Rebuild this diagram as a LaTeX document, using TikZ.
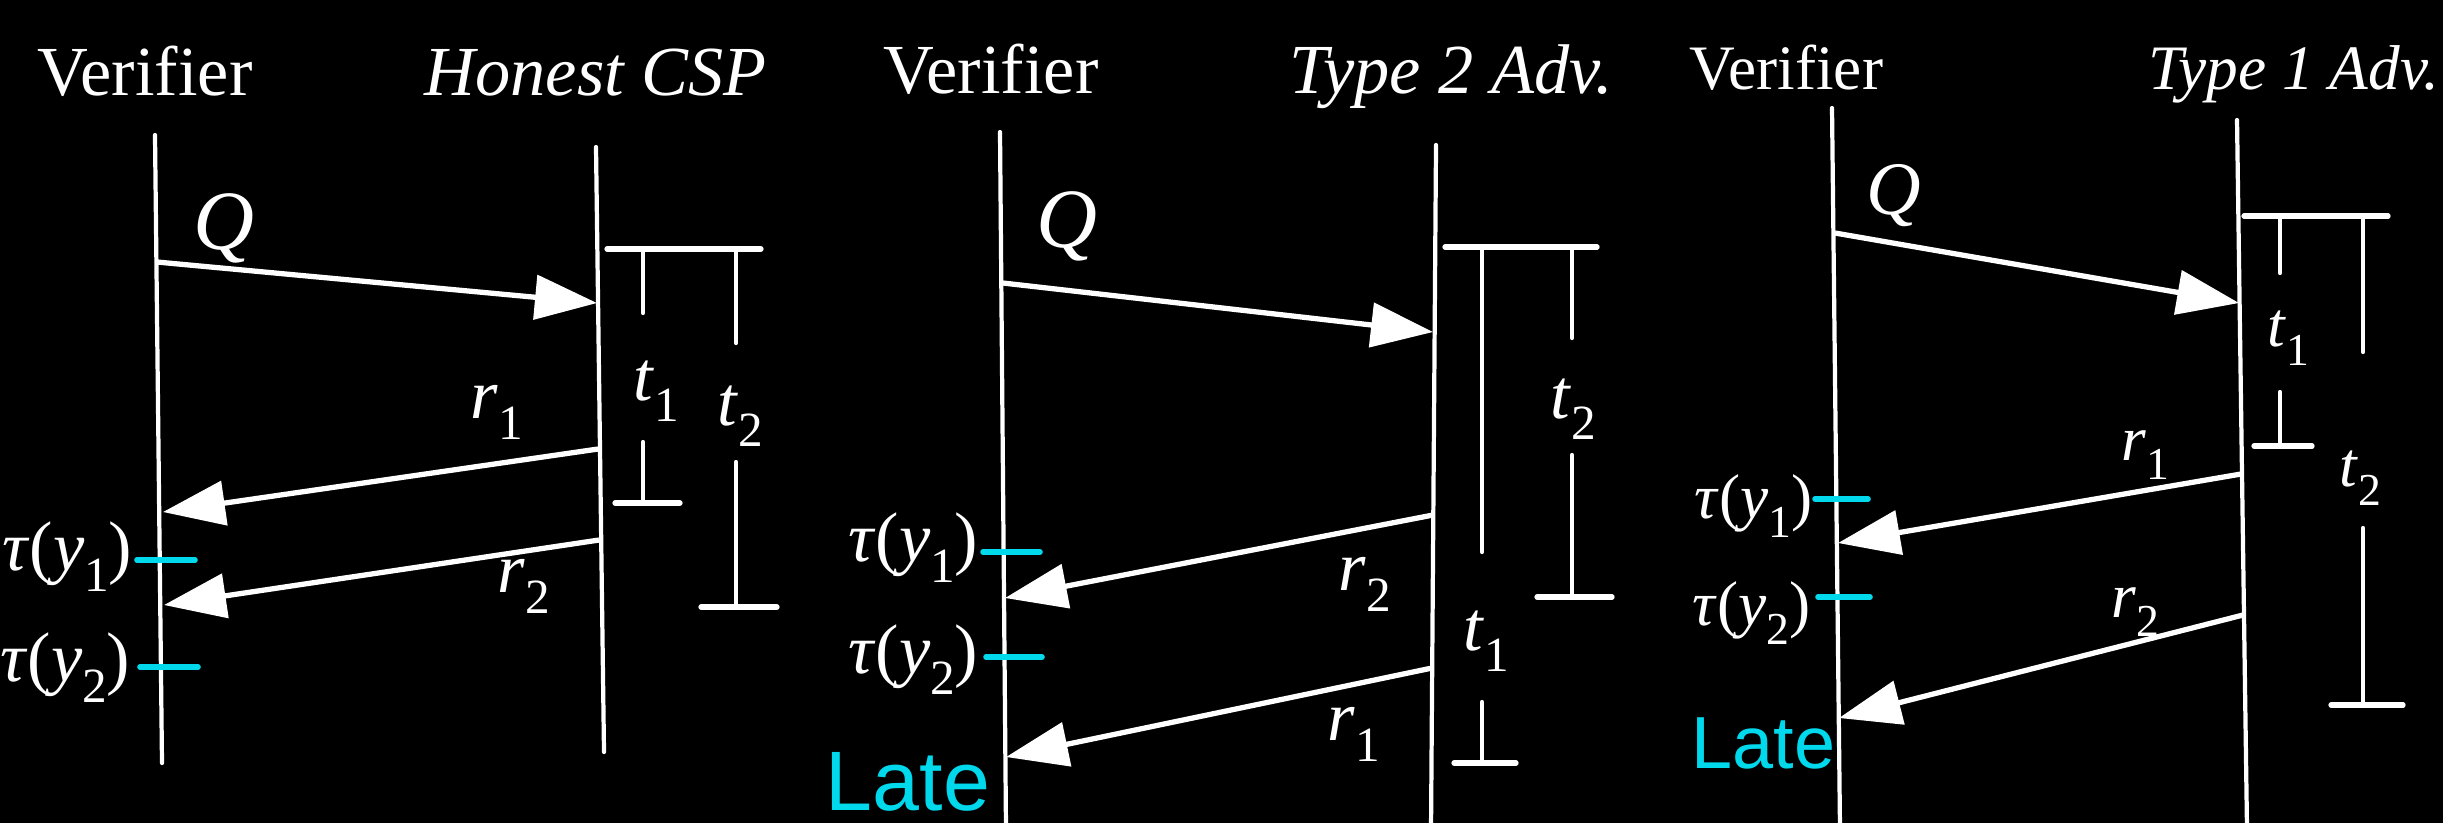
\documentclass[tikz,border=0pt]{standalone}
\usepackage{fontspec}
\setmainfont{Liberation Serif}
\newfontfamily\lsans{Liberation Sans}
\usetikzlibrary{arrows.meta}
\definecolor{tickcyan}{RGB}{0,216,236}
\newcommand{\lb}[3]{\textit{#1}\raisebox{-0.3em}{\fontsize{#3}{#3}\selectfont #2}}
\newcommand{\tauy}[2]{\textit{τ}(\textit{y}\raisebox{-0.3em}{\fontsize{#2}{#2}\selectfont #1})}
\begin{document}
\begin{tikzpicture}[x=0.01cm,y=-0.01cm,
  life/.style={white, line width=1.2pt, line cap=round},
  msg/.style={white, line width=1.5pt, -{Triangle[length=6.2mm,width=4.4mm]}},
  bar/.style={white, line width=1.5pt, line cap=round},
  vbar/.style={white, line width=1.2pt, line cap=round},
  tickm/.style={tickcyan, line width=1.6pt, line cap=round},
  txt/.style={white, inner sep=0pt, font=\fontsize{20}{24}\selectfont},
  txts/.style={white, inner sep=0pt, font=\fontsize{18}{22}\selectfont},
  qlab/.style={white, inner sep=0pt, font=\fontsize{24}{28}\selectfont},
  qlabs/.style={white, inner sep=0pt, font=\fontsize{21.5}{25}\selectfont},
  late/.style={tickcyan, inner sep=0pt, font=\lsans\fontsize{24}{28}\selectfont},
  lates/.style={tickcyan, inner sep=0pt, font=\lsans\fontsize{21}{25}\selectfont}]
\fill[black] (0,0) rectangle (2443,823);
\useasboundingbox (0,0) rectangle (2443,823);

% ---------------- Panel 1 ----------------
\node[txt, anchor=base west] (v1) at (37,95) {Verifier};
\node[txt, anchor=base west] (h1) at (424,95) {\textit{Honest CSP}};
\coordinate (L1t) at (155,135); \coordinate (L1b) at (162,763);
\coordinate (R1t) at (596,147); \coordinate (R1b) at (604,752);
\draw[life] (L1t) -- (L1b);
\draw[life] (R1t) -- (R1b);
\coordinate (q1s) at (157,262); \coordinate (q1e) at (597,303);
\draw[msg] (q1s) -- (q1e);
\coordinate (a1s) at (598,449); \coordinate (a1e) at (163,512);
\draw[msg] (a1s) -- (a1e);
\coordinate (b1s) at (599,540); \coordinate (b1e) at (164,605);
\draw[msg] (b1s) -- (b1e);
\node[qlab, anchor=base] (Q1) at (224,249) {\textit{Q}};
\node[txt, anchor=base west] (r11) at (470,418) {\lb{r}{1}{14}};
\node[txt, anchor=base west] (r12) at (497,592) {\lb{r}{2}{14}};
\node[txt, anchor=base west] (t11) at (633,400) {\lb{t}{1}{14}};
\node[txt, anchor=base west] (t12) at (717,425) {\lb{t}{2}{14}};
\node[txt, anchor=base east] (y11) at (133,570) {\tauy{1}{14}};
\node[txt, anchor=base east] (y12) at (131,681) {\tauy{2}{14}};
\draw[tickm] (137,560) -- (195,560);
\draw[tickm] (140,667) -- (198,667);
\draw[bar] (607,249) -- (761,249);
\draw[vbar] (643,249) -- (643,313);
\draw[vbar] (643,442) -- (643,503);
\draw[bar] (615,503) -- (680,503);
\draw[vbar] (736,249) -- (736,343);
\draw[vbar] (736,462) -- (736,607);
\draw[bar] (701,607) -- (777,607);

% ---------------- Panel 2 ----------------
\node[txt, anchor=base west] (v2) at (883,93) {Verifier};
\node[txt, anchor=base] (h2) at (1451,93) {\textit{Type 2 Adv.}};
\coordinate (L2t) at (1000,132); \coordinate (L2b) at (1006,830);
\coordinate (R2t) at (1436,145); \coordinate (R2b) at (1431,830);
\draw[life] (L2t) -- (L2b);
\draw[life] (R2t) -- (R2b);
\coordinate (q2s) at (1003,283); \coordinate (q2e) at (1433,332);
\draw[msg] (q2s) -- (q2e);
\coordinate (a2s) at (1433,515); \coordinate (a2e) at (1005,598);
\draw[msg] (a2s) -- (a2e);
\coordinate (b2s) at (1432,668); \coordinate (b2e) at (1006,757);
\draw[msg] (b2s) -- (b2e);
\node[qlab, anchor=base] (Q2) at (1067,247) {\textit{Q}};
\node[txt, anchor=base west] (r22) at (1338,590) {\lb{r}{2}{14}};
\node[txt, anchor=base west] (r21) at (1327,740) {\lb{r}{1}{14}};
\node[txt, anchor=base west] (t22) at (1550,418) {\lb{t}{2}{14}};
\node[txt, anchor=base west] (t21) at (1463,650) {\lb{t}{1}{14}};
\node[txt, anchor=base east] (y21) at (979,561) {\tauy{1}{14}};
\node[txt, anchor=base east] (y22) at (979,673) {\tauy{2}{14}};
\node[late, anchor=base west] (late2) at (825,810) {Late};
\draw[tickm] (983,552) -- (1040,552);
\draw[tickm] (986,657) -- (1042,657);
\draw[bar] (1445,247) -- (1597,247);
\draw[vbar] (1482,247) -- (1482,552);
\draw[vbar] (1482,702) -- (1482,762);
\draw[bar] (1454,763) -- (1516,763);
\draw[vbar] (1572,247) -- (1572,338);
\draw[vbar] (1572,455) -- (1572,597);
\draw[bar] (1537,597) -- (1612,597);

% ---------------- Panel 3 ----------------
\node[txts, anchor=base west] (v3) at (1689,89) {Verifier};
\node[txts, anchor=base east] (h3) at (2440,89) {\textit{Type 1 Adv.}};
\coordinate (L3t) at (1832,108); \coordinate (L3b) at (1840,830);
\coordinate (R3t) at (2237,120); \coordinate (R3b) at (2247,830);
\draw[life] (L3t) -- (L3b);
\draw[life] (R3t) -- (R3b);
\coordinate (q3s) at (1835,233); \coordinate (q3e) at (2239,303);
\draw[msg] (q3s) -- (q3e);
\coordinate (a3s) at (2241,474); \coordinate (a3e) at (1838,543);
\draw[msg] (a3s) -- (a3e);
\coordinate (b3s) at (2243,615); \coordinate (b3e) at (1839,718);
\draw[msg] (b3s) -- (b3e);
\node[qlabs, anchor=base] (Q3) at (1894,214) {\textit{Q}};
\node[txts, anchor=base west] (r31) at (2121,460) {\lb{r}{1}{13}};
\node[txts, anchor=base west] (r32) at (2111,617) {\lb{r}{2}{13}};
\node[txts, anchor=base west] (t31) at (2267,346) {\lb{t}{1}{13}};
\node[txts, anchor=base west] (t32) at (2339,486) {\lb{t}{2}{13}};
\node[txts, anchor=base east] (y31) at (1813,518) {\tauy{1}{13}};
\node[txts, anchor=base east] (y32) at (1811,625) {\tauy{2}{13}};
\node[lates, anchor=base west] (late3) at (1691,768) {Late};
\draw[tickm] (1815,499) -- (1868,499);
\draw[tickm] (1818,597) -- (1870,597);
\draw[bar] (2244,216) -- (2388,216);
\draw[vbar] (2280,217) -- (2280,273);
\draw[vbar] (2280,392) -- (2280,445);
\draw[bar] (2254,446) -- (2312,446);
\draw[vbar] (2363,217) -- (2363,352);
\draw[vbar] (2363,528) -- (2363,703);
\draw[bar] (2331,705) -- (2403,705);
\end{tikzpicture}
\end{document}
